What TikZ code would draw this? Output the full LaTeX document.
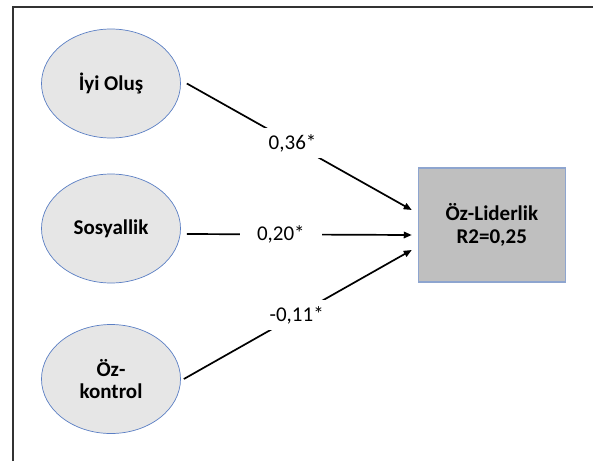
\documentclass[tikz,border=0pt]{standalone}
\usepackage{fontspec}
\setmainfont{Carlito}
\usetikzlibrary{arrows.meta,shapes.geometric}
\definecolor{ellfill}{HTML}{E6E6E6}
\definecolor{ellline}{HTML}{5B7FC4}
\definecolor{boxfill}{HTML}{BFBFBF}
\definecolor{boxline}{HTML}{8EA5CF}
\definecolor{framecol}{HTML}{333333}
\begin{document}
\begin{tikzpicture}[x=1pt,y=-1pt,
  font=\fontsize{21}{23}\selectfont,
  latent/.style={ellipse, draw=ellline, fill=ellfill, line width=0.7pt,
    minimum width=139pt, minimum height=109pt, inner sep=0pt, align=center,
    font=\bfseries\fontsize{21}{22.5}\selectfont},
  outcome/.style={rectangle, draw=boxline, fill=boxfill, line width=1.1pt,
    minimum width=147pt, minimum height=114pt, inner sep=0pt, align=center,
    font=\bfseries\fontsize{21}{23}\selectfont},
  effect/.style={draw=black, line width=1.7pt, -{Triangle[length=8pt,width=6.5pt]}},
  coef/.style={fill=white, inner xsep=17pt, inner ysep=6pt},
  framebar/.style={draw=framecol, line width=1.3pt}]
\useasboundingbox (0,0) rectangle (593,461);
\draw[framebar] (13,461) -- (13,7) -- (593,7);

\node[latent] (e1) at (111,83.5) {İyi Oluş};
\node[latent] (e2) at (111,228.5) {Sosyallik};
\node[latent] (e3) at (111,379) {Öz-\\kontrol};
\node[outcome] (r) at (491.8,225) {Öz-Liderlik\\R2=0,25};

\draw[effect] ([xshift=6pt]e1.east) -- node[coef, pos=0.47] (c1) {0,36*} ([xshift=-6pt,yshift=15pt]r.west);
\draw[effect] ([xshift=6pt,yshift=-5.5pt]e2.east) -- node[coef, pos=0.418] (c2) {0,20*} ([xshift=-6pt,yshift=-10pt]r.west);
\draw[effect] ([xshift=3pt]e3.east) -- node[coef, pos=0.495] (c3) {-0,11*} ([xshift=-6pt,yshift=-25pt]r.west);
\end{tikzpicture}
\end{document}
